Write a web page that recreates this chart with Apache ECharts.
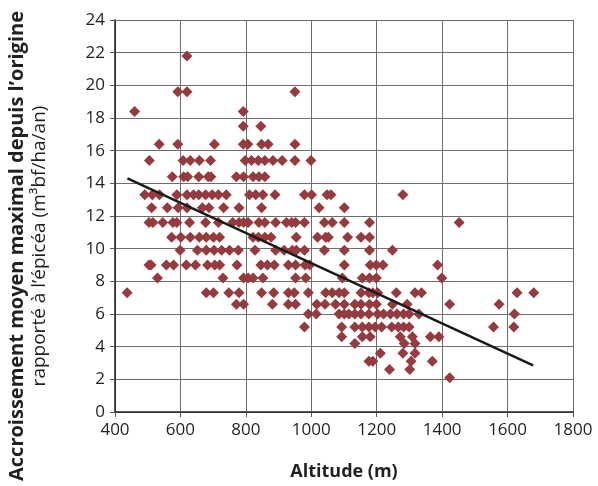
<!DOCTYPE html>
<html>
<head>
<meta charset="utf-8">
<style>
  html, body { margin: 0; padding: 0; background: #fff; }
  #chart { width: 598px; height: 486px; }
</style>
<script src="https://cdn.jsdelivr.net/npm/echarts@6/dist/echarts.min.js"></script>
</head>
<body>
<div id="chart"></div>
<script>
// accroissement (m3bf/ha/an) : niveaux
var growthLevels = [21.8, 19.6, 18.4, 17.5, 16.4, 15.4, 14.4, 13.3, 12.5, 11.6, 10.7, 9.9, 9.0, 8.2, 7.3, 6.6, 6.0, 5.2, 4.6, 4.2, 3.6, 3.1, 2.6, 2.1];
// altitudes (m) des placettes pour chaque niveau
var altitudesByLevel = [
    [620],
    [592, 620, 950],
    [460, 792],
    [792, 846],
    [535, 592, 704, 792, 806, 848, 868, 950],
    [505, 608, 630, 658, 692, 798, 817, 838, 858, 883, 911, 950, 999],
    [575, 610, 622, 656, 685, 693, 771, 793, 822, 840, 858],
    [491, 514, 536, 589, 620, 640, 656, 677, 697, 716, 740, 811, 830, 852, 889, 979, 1001, 1048, 1060, 1280],
    [512, 560, 593, 620, 667, 687, 732, 779, 848, 1024, 1101],
    [504, 516, 546, 577, 589, 628, 677, 716, 760, 779, 793, 807, 840, 858, 891, 924, 940, 952, 979, 1040, 1064, 1101, 1178, 1452],
    [573, 601, 630, 658, 679, 701, 720, 822, 838, 858, 877, 954, 1019, 1044, 1052, 1111, 1152, 1178],
    [599, 652, 679, 703, 726, 750, 777, 828, 891, 917, 942, 954, 979, 1040, 1101, 1178, 1248],
    [504, 510, 557, 579, 618, 646, 683, 705, 720, 773, 846, 866, 887, 930, 952, 981, 995, 1101, 1180, 1199, 1219, 1386],
    [530, 730, 793, 807, 822, 852, 952, 983, 1095, 1156, 1178, 1199, 1399],
    [437, 679, 701, 748, 779, 848, 885, 930, 948, 991, 1044, 1064, 1085, 1101, 1152, 1176, 1188, 1203, 1260, 1317, 1337, 1629, 1680],
    [771, 793, 881, 930, 952, 1017, 1042, 1074, 1101, 1133, 1152, 1178, 1199, 1248, 1293, 1423, 1574],
    [991, 1015, 1085, 1101, 1115, 1133, 1152, 1176, 1203, 1221, 1242, 1262, 1282, 1299, 1329, 1621],
    [979, 1093, 1133, 1156, 1176, 1195, 1215, 1246, 1266, 1282, 1299, 1557, 1619],
    [1093, 1156, 1180, 1272, 1309, 1364, 1390],
    [1133, 1284, 1317],
    [1211, 1280, 1317],
    [1176, 1188, 1305, 1370],
    [1239, 1301],
    [1423]
];
// droite de tendance (extrémités)
var trendAltitude = [438, 1678];
var trendGrowth = [14.3, 2.86];

var points = [];
growthLevels.forEach(function (g, i) {
    altitudesByLevel[i].forEach(function (a) { points.push([a, g]); });
});
var trend = trendAltitude.map(function (a, i) { return [a, trendGrowth[i]]; });

var myChart = echarts.init(document.getElementById('chart'));
var font = '"Open Sans", "Noto Sans", sans-serif';
var ink = '#231f20';

var option = {
    animation: false,
    backgroundColor: '#fff',
    grid: { left: 115, right: 25, top: 20, bottom: 74 },
    xAxis: {
        type: 'value',
        min: 400, max: 1800, interval: 200,
        name: 'Altitude (m)',
        nameLocation: 'middle',
        nameGap: 51,
        nameTextStyle: { fontFamily: font, fontSize: 18, fontWeight: 'bold', color: ink },
        axisLine: { show: true, lineStyle: { color: ink, width: 1.5 } },
        axisTick: { show: true, length: 5, lineStyle: { color: '#555' } },
        axisLabel: { fontFamily: font, fontSize: 17, color: ink, margin: 10, formatter: function (v) { return String(v); } },
        splitLine: { show: true, lineStyle: { color: '#6e6e6e', width: 1 } }
    },
    yAxis: {
        type: 'value',
        min: 0, max: 24, interval: 2,
        axisLine: { show: true, lineStyle: { color: ink, width: 1.5 } },
        axisTick: { show: true, length: 5, lineStyle: { color: '#555' } },
        axisLabel: { fontFamily: font, fontSize: 17, color: ink, margin: 10 },
        splitLine: { show: true, lineStyle: { color: '#6e6e6e', width: 1 } }
    },
    // titres de l'axe vertical (deux lignes, graisses différentes)
    graphic: [
        {
            type: 'text', rotation: Math.PI / 2, x: 7, y: 246,
            style: { text: 'Accroissement moyen maximal depuis l\u2019origine', fontFamily: font, fontSize: 20, fontWeight: 'bold', fill: ink, align: 'center', verticalAlign: 'top' }
        },
        {
            type: 'text', rotation: Math.PI / 2, x: 30, y: 246,
            style: { text: 'rapporté à l\u2019épicéa (m³bf/ha/an)', fontFamily: font, fontSize: 19, fill: ink, align: 'center', verticalAlign: 'top' }
        }
    ],
    series: [
        {
            type: 'scatter',
            data: points,
            symbol: 'diamond',
            symbolSize: 11,
            itemStyle: { color: '#953a3e', opacity: 1 },
            z: 2
        },
        {
            type: 'line',
            data: trend,
            symbol: 'none',
            lineStyle: { color: '#1a1a1a', width: 2.5 },
            z: 3
        }
    ]
};

myChart.setOption(option);
</script>
</body>
</html>
